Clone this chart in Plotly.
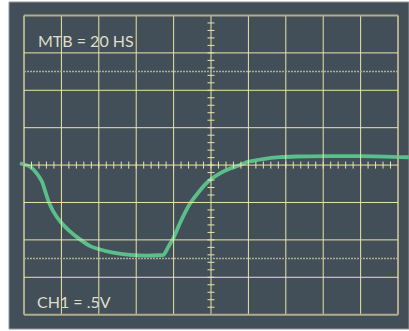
import plotly.graph_objects as go

# Trace readout, in screen divisions measured from the graticule centre
trace_x = [-5.11, -4.97, -4.84, -4.66, -4.52, -4.43, -4.34, -4.21, -4.03, -3.81,
           -3.54, -3.24, -3.06, -2.62, -2.17, -1.72, -1.40, -1.27, -1.15, -1.01,
           -0.83, -0.56, -0.29, -0.03, 0.24, 0.51, 0.78, 0.96, 1.39, 1.84,
           2.29, 3.18, 4.06, 5.29]
trace_y = [0.05, 0.01, -0.04, -0.22, -0.44, -0.71, -0.98, -1.25, -1.51, -1.74,
           -1.96, -2.16, -2.23, -2.34, -2.40, -2.42, -2.41, -2.40, -2.20, -1.96,
           -1.55, -1.03, -0.67, -0.40, -0.22, -0.09, 0.00, 0.08, 0.16, 0.21,
           0.23, 0.24, 0.24, 0.21]

# Graticule: 10 x 8 divisions, dotted 0%/100% markers at +/-2.5 div
h_divs = list(range(-5, 6))
v_divs = list(range(-4, 5))
marker_levels = [2.5, -2.5]
minor_step = 0.2
labels = ["MTB = 20 HS", "CH1 = .5V"]

PANEL = "#424f59"
GRID = "#e9e6a4"
FRAME = "#afad8c"
TEXT = "#deddc8"
TRACE = "#5bbf8b"

W, H = 409, 331
x_range = [-5.642, 5.294]
y_range = [-4.436, 4.414]

fig = go.Figure()
shapes = []

# dark screen panel
shapes.append(dict(type="rect", xref="paper", yref="paper",
                   x0=9 / W, x1=1.0, y0=1 - 329 / H, y1=1 - 2 / H,
                   fillcolor=PANEL, line=dict(color="#8e969c", width=1),
                   layer="below"))

# grid lines
for xv in h_divs:
    edge = xv in (h_divs[0], h_divs[-1])
    shapes.append(dict(type="line", x0=xv, x1=xv, y0=v_divs[0], y1=v_divs[-1],
                       line=dict(color=FRAME if edge else GRID, width=2 if edge else 1)))
for yv in v_divs:
    edge = yv in (v_divs[0], v_divs[-1])
    shapes.append(dict(type="line", x0=h_divs[0], x1=h_divs[-1], y0=yv, y1=yv,
                       line=dict(color=FRAME if edge else GRID, width=2 if edge else 1)))

# dotted rise-time markers
for yv in marker_levels:
    shapes.append(dict(type="line", x0=h_divs[0], x1=h_divs[-1], y0=yv, y1=yv,
                       line=dict(color="#aeac92", width=1.5, dash="2px,1px")))

# minor ticks along the centre axes
half = 0.094
n_h = int(round((h_divs[-1] - h_divs[0]) / minor_step))
for i in range(1, n_h):
    xv = h_divs[0] + i * minor_step
    shapes.append(dict(type="line", x0=xv, x1=xv, y0=-half, y1=half,
                       line=dict(color=GRID, width=1)))
n_v = int(round((v_divs[-1] - v_divs[0]) / minor_step))
for i in range(1, n_v):
    yv = v_divs[0] + i * minor_step
    shapes.append(dict(type="line", x0=-half, x1=half, y0=yv, y1=yv,
                       line=dict(color=GRID, width=1)))

fig.add_trace(go.Scatter(x=trace_x, y=trace_y, mode="lines",
                         line=dict(color=TRACE, width=3.8, shape="spline", smoothing=0.7),
                         hoverinfo="skip", showlegend=False))

annotations = [
    dict(x=(36 - 211) / 37.4, y=(165.1 - 41) / 37.4, xref="x", yref="y",
         text=labels[0], showarrow=False, xanchor="left", yanchor="middle",
         font=dict(family="Lato", size=16, color=TEXT)),
    dict(x=(35 - 211) / 37.4, y=(165.1 - 301.5) / 37.4, xref="x", yref="y",
         text=labels[1], showarrow=False, xanchor="left", yanchor="middle",
         font=dict(family="Lato", size=16, color=TEXT)),
]

fig.update_layout(
    width=W, height=H,
    margin=dict(l=0, r=0, t=0, b=0),
    paper_bgcolor="white", plot_bgcolor="rgba(0,0,0,0)",
    shapes=shapes, annotations=annotations,
    xaxis=dict(range=x_range, visible=False, fixedrange=True),
    yaxis=dict(range=y_range, visible=False, fixedrange=True),
    showlegend=False,
)

fig.write_html("out.html", config={"displayModeBar": False})
